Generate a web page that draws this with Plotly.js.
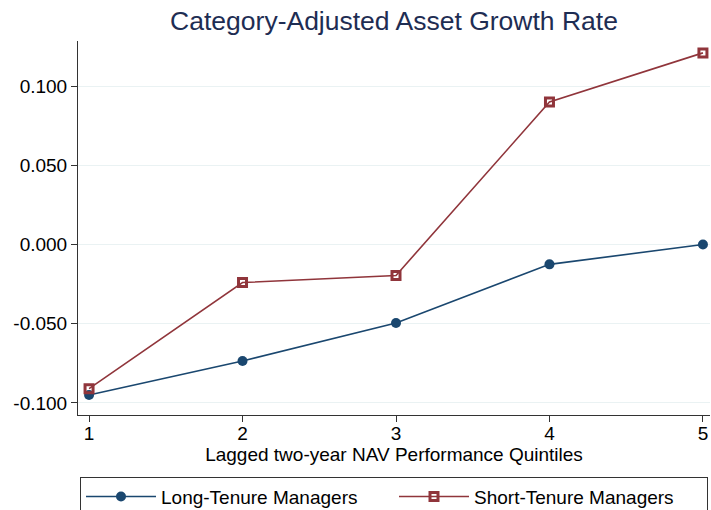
<!DOCTYPE html>
<html>
<head>
<meta charset="utf-8">
<script src="https://cdn.plot.ly/plotly-3.0.1.min.js"></script>
<style>html,body{margin:0;padding:0;background:#fff;}#chart{width:711px;height:510px;}</style>
</head>
<body>
<div id="chart"></div>
<script>
var quintiles = [1, 2, 3, 4, 5];
var longTenure = [-0.095, -0.0735, -0.0495, -0.0125, 0.000];
var shortTenure = [-0.091, -0.024, -0.0195, 0.090, 0.121];
var yTickVals = [-0.1, -0.05, 0, 0.05, 0.1];
var yTickText = ["-0.100", "-0.050", "0.000", "0.050", "0.100"];
var xTickVals = [1, 2, 3, 4, 5];

var font = "Liberation Sans, Arial, sans-serif";
var traces = [
  {x: quintiles, y: longTenure, name: "Long-Tenure Managers", type: "scatter", mode: "lines+markers",
   line: {color: "#1a476f", width: 1.6}, marker: {symbol: "circle", size: 10, color: "#1a476f"}},
  {x: quintiles, y: shortTenure, name: "Short-Tenure Managers", type: "scatter", mode: "lines+markers",
   line: {color: "#90353b", width: 1.6}, marker: {symbol: "square-open", size: 8, color: "#90353b", line: {width: 3, color: "#90353b"}}}
];
var layout = {
  width: 711, height: 510,
  margin: {l: 78, r: 1, t: 41, b: 95, autoexpand: false},
  paper_bgcolor: "#fff", plot_bgcolor: "#fff",
  font: {family: font, color: "#000"},
  title: {text: "Category-Adjusted Asset Growth Rate", font: {size: 26.5, color: "#1e2d53", family: font},
          x: 0.5, xref: "paper", xanchor: "center", y: 0.959, yref: "container", yanchor: "middle"},
  xaxis: {range: [0.928, 5.046], tickvals: xTickVals, ticks: "outside", ticklen: 6, tickcolor: "#333",
          showgrid: false, zeroline: false, showline: true, linecolor: "#333", linewidth: 1, ticklabelstandoff: -5,
          tickfont: {size: 19}, title: {text: "Lagged two-year NAV Performance Quintiles", font: {size: 19}, standoff: 2}},
  yaxis: {range: [-0.1076, 0.1285], tickvals: yTickVals, ticktext: yTickText, ticks: "outside", ticklen: 6, tickcolor: "#333",
          showgrid: true, gridcolor: "#eaf2f3", gridwidth: 1, zeroline: false, showline: true, linecolor: "#333", linewidth: 1,
          tickfont: {size: 19}},
  showlegend: true,
  legend: {orientation: "h", x: 0.5, xanchor: "center", y: -0.165, yanchor: "top",
           bordercolor: "#333", borderwidth: 1, bgcolor: "#fff", font: {size: 19},
           itemwidth: 70, entrywidth: 228, entrywidthmode: "pixels"}
};
Plotly.newPlot("chart", traces, layout, {displayModeBar: false, staticPlot: true});
</script>
</body>
</html>
